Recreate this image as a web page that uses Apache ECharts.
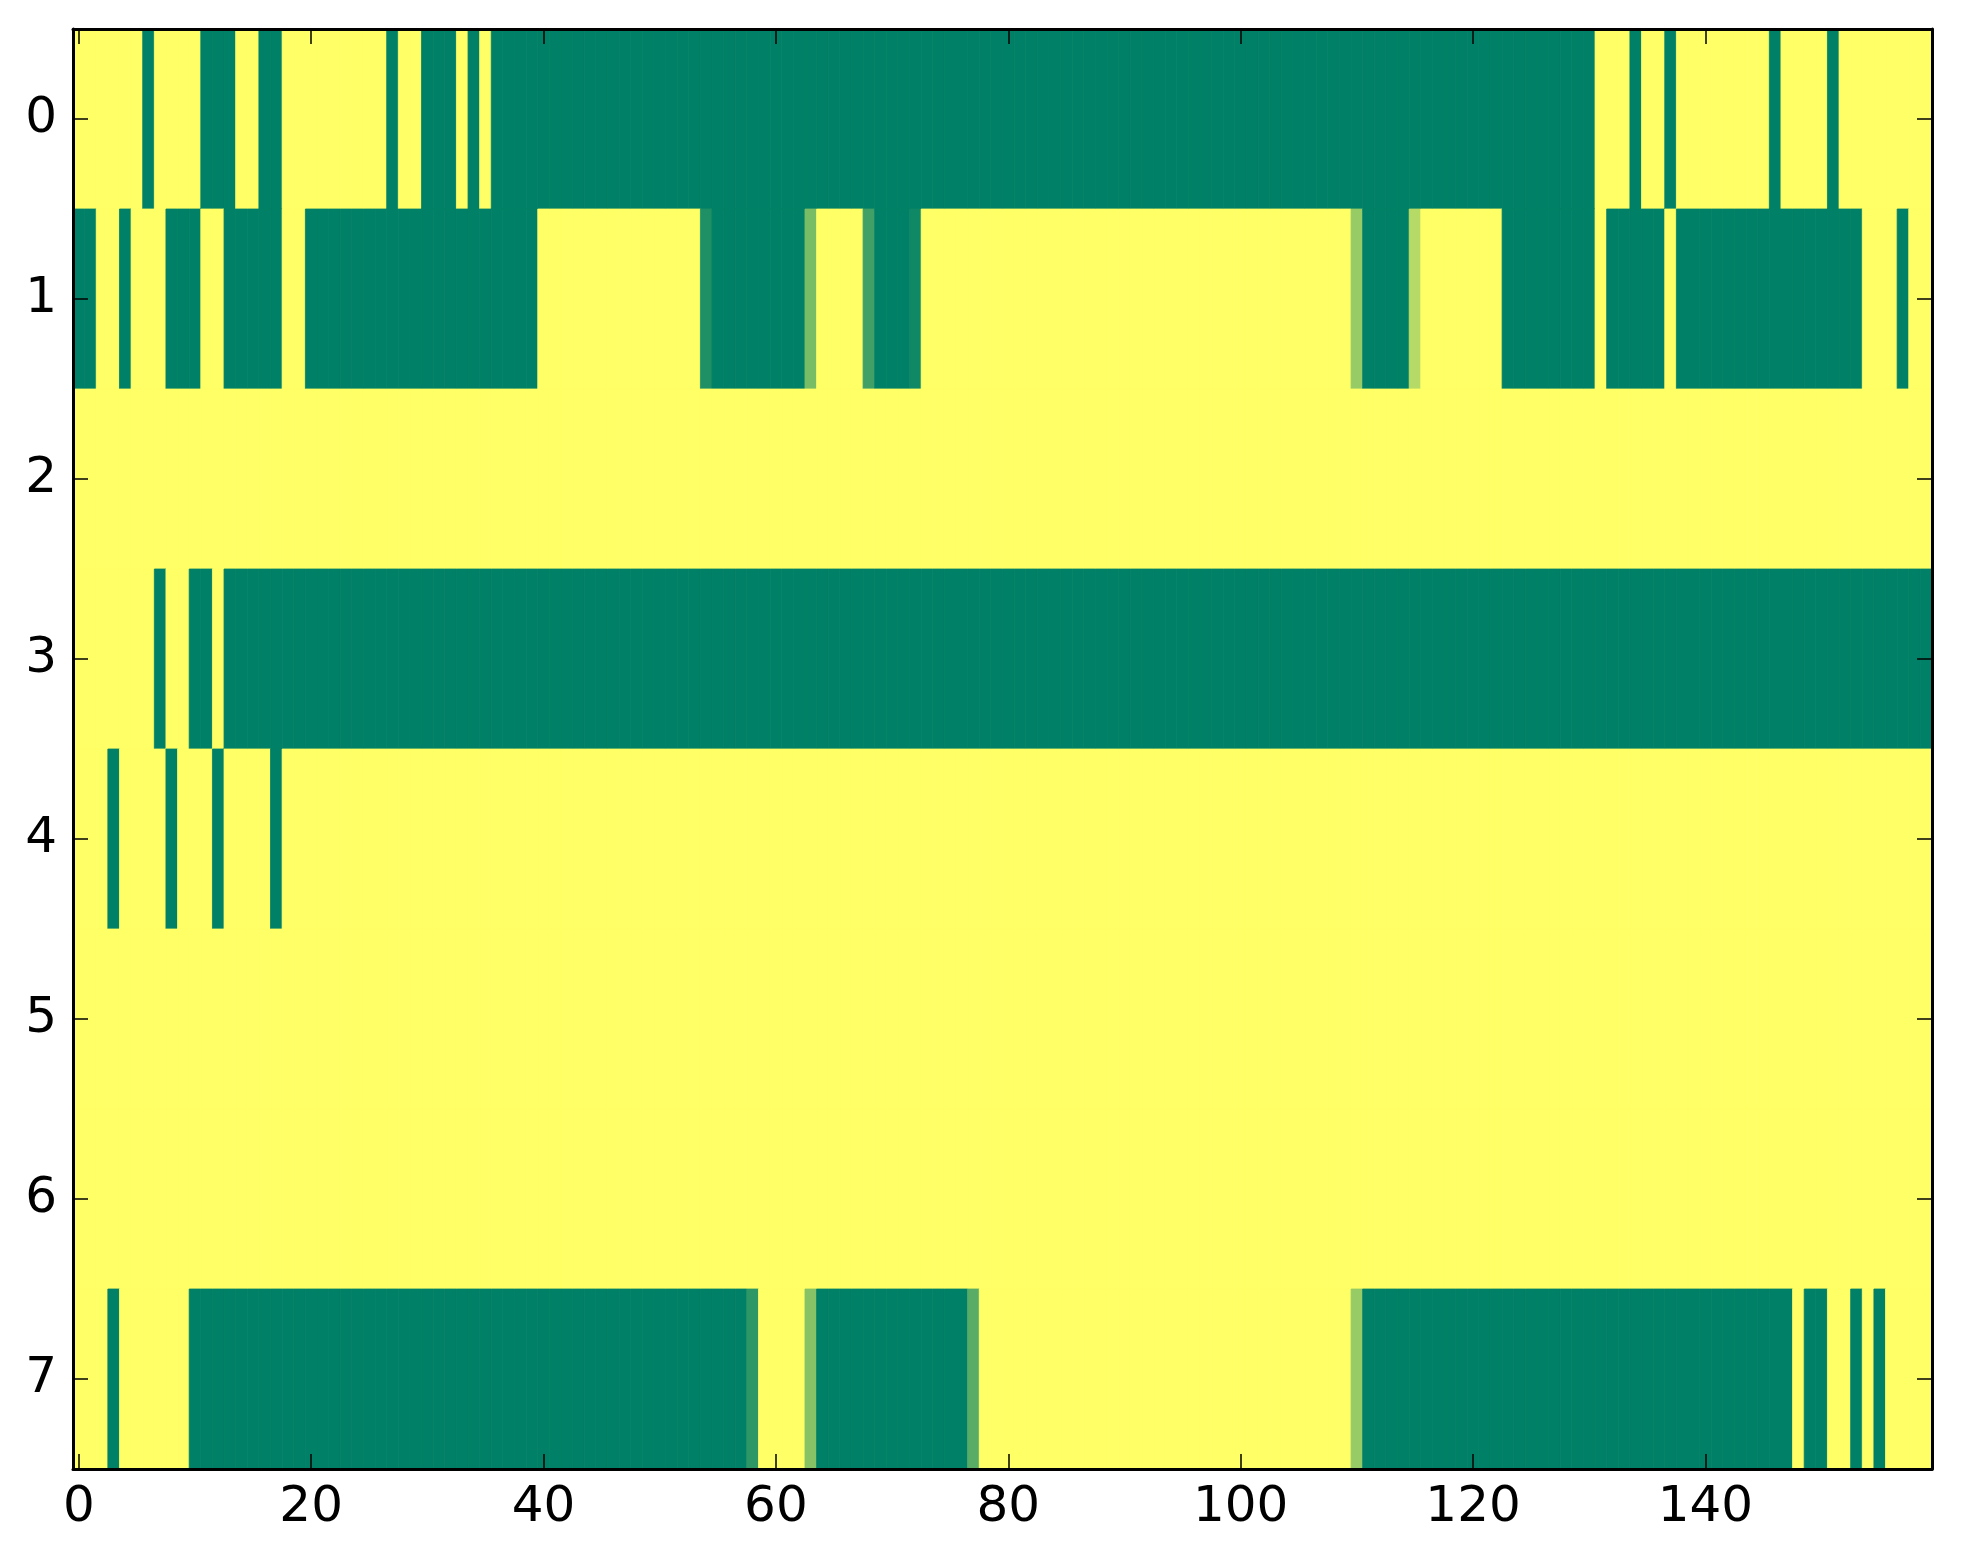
<!DOCTYPE html>
<html>
<head>
<meta charset="utf-8">
<script src="https://cdn.jsdelivr.net/npm/echarts@6/dist/echarts.min.js"></script>
<style>
html,body{margin:0;padding:0;background:#fff;}
#chart{width:1963px;height:1564px;}
</style>
</head>
<body>
<div id="chart"></div>
<script>
// Column indices 0..159, row indices 0..7
var xCategories = [];
for (var i = 0; i < 160; i++) xCategories.push(String(i));
var yCategories = ['0','1','2','3','4','5','6','7'];
var xTickLabels = ['0','20','40','60','80','100','120','140'];

var row0 = [
1,1,1,1,1,1,0,1,1,1,1,0,0,0,1,1,0,0,1,1,
1,1,1,1,1,1,1,0,1,1,0,0,0,1,0,1,0,0,0,0,
0,0,0,0,0,0,0,0,0,0,0,0,0,0,0,0,0,0,0,0,
0,0,0,0,0,0,0,0,0,0,0,0,0,0,0,0,0,0,0,0,
0,0,0,0,0,0,0,0,0,0,0,0,0,0,0,0,0,0,0,0,
0,0,0,0,0,0,0,0,0,0,0,0,0,0,0,0,0,0,0,0,
0,0,0,0,0,0,0,0,0,0,0,1,1,1,0,1,1,0,1,1,
1,1,1,1,1,1,0,1,1,1,1,0,1,1,1,1,1,1,1,1
];
var row1 = [
0,0,1,1,0,1,1,1,0,0,0,1,1,0,0,0,0,0,1,1,
0,0,0,0,0,0,0,0,0,0,0,0,0,0,0,0,0,0,0,0,
1,1,1,1,1,1,1,1,1,1,1,1,1,1,0.12,0,0,0,0,0,
0,0,0,0.47,1,1,1,1,0.25,0,0,0,0.06,1,1,1,1,1,1,1,
1,1,1,1,1,1,1,1,1,1,1,1,1,1,1,1,1,1,1,1,
1,1,1,1,1,1,1,1,1,1,0.59,0,0,0,0,0.71,1,1,1,1,
1,1,1,0,0,0,0,0,0,0,0,1,0,0,0,0,0,1,0,0,
0,0,0,0,0,0,0,0,0,0,0,0,0,0,1,1,1,0,1,1
];
var row2 = [
1,1,1,1,1,1,1,1,1,1,1,1,1,1,1,1,1,1,1,1,
1,1,1,1,1,1,1,1,1,1,1,1,1,1,1,1,1,1,1,1,
1,1,1,1,1,1,1,1,1,1,1,1,1,1,1,1,1,1,1,1,
1,1,1,1,1,1,1,1,1,1,1,1,1,1,1,1,1,1,1,1,
1,1,1,1,1,1,1,1,1,1,1,1,1,1,1,1,1,1,1,1,
1,1,1,1,1,1,1,1,1,1,1,1,1,1,1,1,1,1,1,1,
1,1,1,1,1,1,1,1,1,1,1,1,1,1,1,1,1,1,1,1,
1,1,1,1,1,1,1,1,1,1,1,1,1,1,1,1,1,1,1,1
];
var row3 = [
1,1,1,1,1,1,1,0,1,1,0,0,1,0,0,0,0,0,0,0,
0,0,0,0,0,0,0,0,0,0,0,0,0,0,0,0,0,0,0,0,
0,0,0,0,0,0,0,0,0,0,0,0,0,0,0,0,0,0,0,0,
0,0,0,0,0,0,0,0,0,0,0,0,0,0,0,0,0,0,0,0,
0,0,0,0,0,0,0,0,0,0,0,0,0,0,0,0,0,0,0,0,
0,0,0,0,0,0,0,0,0,0,0,0,0,0,0,0,0,0,0,0,
0,0,0,0,0,0,0,0,0,0,0,0,0,0,0,0,0,0,0,0,
0,0,0,0,0,0,0,0,0,0,0,0,0,0,0,0,0,0,0,0
];
var row4 = [
1,1,1,0,1,1,1,1,0,1,1,1,0,1,1,1,1,0,1,1,
1,1,1,1,1,1,1,1,1,1,1,1,1,1,1,1,1,1,1,1,
1,1,1,1,1,1,1,1,1,1,1,1,1,1,1,1,1,1,1,1,
1,1,1,1,1,1,1,1,1,1,1,1,1,1,1,1,1,1,1,1,
1,1,1,1,1,1,1,1,1,1,1,1,1,1,1,1,1,1,1,1,
1,1,1,1,1,1,1,1,1,1,1,1,1,1,1,1,1,1,1,1,
1,1,1,1,1,1,1,1,1,1,1,1,1,1,1,1,1,1,1,1,
1,1,1,1,1,1,1,1,1,1,1,1,1,1,1,1,1,1,1,1
];
var row5 = [
1,1,1,1,1,1,1,1,1,1,1,1,1,1,1,1,1,1,1,1,
1,1,1,1,1,1,1,1,1,1,1,1,1,1,1,1,1,1,1,1,
1,1,1,1,1,1,1,1,1,1,1,1,1,1,1,1,1,1,1,1,
1,1,1,1,1,1,1,1,1,1,1,1,1,1,1,1,1,1,1,1,
1,1,1,1,1,1,1,1,1,1,1,1,1,1,1,1,1,1,1,1,
1,1,1,1,1,1,1,1,1,1,1,1,1,1,1,1,1,1,1,1,
1,1,1,1,1,1,1,1,1,1,1,1,1,1,1,1,1,1,1,1,
1,1,1,1,1,1,1,1,1,1,1,1,1,1,1,1,1,1,1,1
];
var row6 = [
1,1,1,1,1,1,1,1,1,1,1,1,1,1,1,1,1,1,1,1,
1,1,1,1,1,1,1,1,1,1,1,1,1,1,1,1,1,1,1,1,
1,1,1,1,1,1,1,1,1,1,1,1,1,1,1,1,1,1,1,1,
1,1,1,1,1,1,1,1,1,1,1,1,1,1,1,1,1,1,1,1,
1,1,1,1,1,1,1,1,1,1,1,1,1,1,1,1,1,1,1,1,
1,1,1,1,1,1,1,1,1,1,1,1,1,1,1,1,1,1,1,1,
1,1,1,1,1,1,1,1,1,1,1,1,1,1,1,1,1,1,1,1,
1,1,1,1,1,1,1,1,1,1,1,1,1,1,1,1,1,1,1,1
];
var row7 = [
1,1,1,0,1,1,1,1,1,1,0,0,0,0,0,0,0,0,0,0,
0,0,0,0,0,0,0,0,0,0,0,0,0,0,0,0,0,0,0,0,
0,0,0,0,0,0,0,0,0,0,0,0,0,0,0,0,0,0,0.18,1,
1,1,1,0.53,0,0,0,0,0,0,0,0,0,0,0,0,0,0.35,1,1,
1,1,1,1,1,1,1,1,1,1,1,1,1,1,1,1,1,1,1,1,
1,1,1,1,1,1,1,1,1,1,0.59,0,0,0,0,0,0,0,0,0,
0,0,0,0,0,0,0,0,0,0,0,0,0,0,0,0,0,0,0,0,
0,0,0,0,0,0,0,0,1,0,0,1,1,0,1,0,1,1,1,1
];

var rows = [row0, row1, row2, row3, row4, row5, row6, row7];
var heatData = [];
rows.forEach(function (r, yi) {
  r.forEach(function (v, xi) { heatData.push([xi, yi, v]); });
});

var FONT = 'DejaVu Sans';
var tickIdx = function (idx) { return xTickLabels.indexOf(String(idx)) >= 0; };
var axisLineStyle = { show: true, lineStyle: { color: '#000', width: 3 } };
var tickStyle = { color: '#000', width: 1.5 };

function renderCell(params, api) {
  var c = api.coord([api.value(0), api.value(1)]);
  var s = api.size([1, 1]);
  var col = api.visual('color');
  return {
    type: 'rect',
    shape: { x: c[0] - s[0] / 2, y: c[1] - s[1] / 2, width: s[0], height: s[1] },
    style: { fill: col, stroke: col, lineWidth: 0.8 }
  };
}

var chart = echarts.init(document.getElementById('chart'), null, { renderer: 'canvas' });
chart.setOption({
  animation: false,
  backgroundColor: '#ffffff',
  grid: { left: 73, top: 29, width: 1859, height: 1440, containLabel: false },
  visualMap: {
    show: false, type: 'continuous', min: 0, max: 1, dimension: 2, seriesIndex: 0,
    inRange: { color: ['#008066', '#ffff66'] }
  },
  xAxis: [{
    type: 'category', data: xCategories, position: 'bottom', z: 10,
    boundaryGap: true,
    axisLine: axisLineStyle,
    axisTick: { show: true, inside: true, length: 15, alignWithLabel: true, interval: function (i) { return tickIdx(i); }, lineStyle: tickStyle },
    axisLabel: { show: true, interval: function (i) { return tickIdx(i); }, fontFamily: FONT, fontSize: 50, color: '#000', margin: 14 },
    splitLine: { show: false }
  }, {
    type: 'category', data: xCategories, position: 'top', z: 10,
    boundaryGap: true,
    axisLine: axisLineStyle,
    axisTick: { show: true, inside: true, length: 15, alignWithLabel: true, interval: function (i) { return tickIdx(i); }, lineStyle: tickStyle },
    axisLabel: { show: false },
    splitLine: { show: false }
  }],
  yAxis: [{
    type: 'category', data: yCategories, inverse: true, position: 'left', z: 10,
    axisLine: axisLineStyle,
    axisTick: { show: true, inside: true, length: 15, alignWithLabel: true, lineStyle: tickStyle },
    axisLabel: { show: true, fontFamily: FONT, fontSize: 50, color: '#000', margin: 16 },
    splitLine: { show: false }
  }, {
    type: 'category', data: yCategories, inverse: true, position: 'right', z: 10,
    axisLine: axisLineStyle,
    axisTick: { show: true, inside: true, length: 15, alignWithLabel: true, lineStyle: tickStyle },
    axisLabel: { show: false },
    splitLine: { show: false }
  }],
  series: [{
    type: 'custom', xAxisIndex: 0, yAxisIndex: 0,
    renderItem: renderCell,
    encode: { x: 0, y: 1 },
    data: heatData,
    clip: true,
    silent: true,
    progressive: 0
  }]
});
</script>
</body>
</html>
